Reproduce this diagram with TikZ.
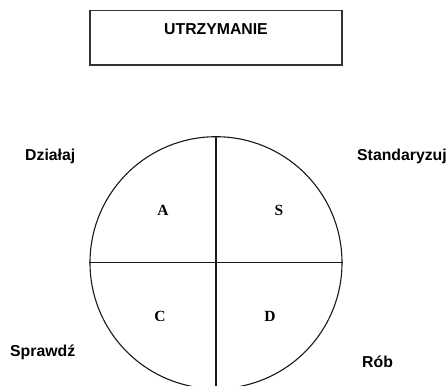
\documentclass[tikz,border=0pt]{standalone}
\usepackage{fontspec}
\setmainfont{Liberation Serif}
\newfontfamily\arialf{Liberation Sans}
\begin{document}
\begin{tikzpicture}[x=1pt,y=-1pt,
  lab/.style={font=\arialf\bfseries\fontsize{15.8}{18}\selectfont, inner sep=0pt},
  quad/.style={font=\bfseries\fontsize{15.5}{18}\selectfont, inner sep=0pt},
  ln/.style={line width=1.1pt, black!90}]
\useasboundingbox (0,0) rectangle (448,386);
\begin{scope}
\clip (0,0) rectangle (448,386);
\node[draw=black!80, line width=1.4pt, minimum width=252pt, minimum height=54.5pt, inner sep=0pt] (box) at (216,37.75) {};
\node[lab] (title) at (216,29) {UTRZYMANIE};
\coordinate (c) at (216,262.7);
\node[draw, ln, circle, minimum size=252pt, inner sep=0pt] (circ) at (c) {};
\draw[ln] (circ.west) -- (circ.east);
\draw[ln] (circ.north) -- (circ.south);
\node[quad] (A) at (163,210) {A};
\node[quad] (S) at (279,210) {S};
\node[quad] (C) at (160,316) {C};
\node[quad] (D) at (270,316) {D};
\node[lab, anchor=west] (dz) at (25,156) {Działaj};
\node[lab, anchor=west] (st) at (357,156) {Standaryzuj};
\node[lab, anchor=west] (sp) at (10,352) {Sprawdź};
\node[lab, anchor=west] (rb) at (362,362) {Rób};
\end{scope}
\end{tikzpicture}
\end{document}
